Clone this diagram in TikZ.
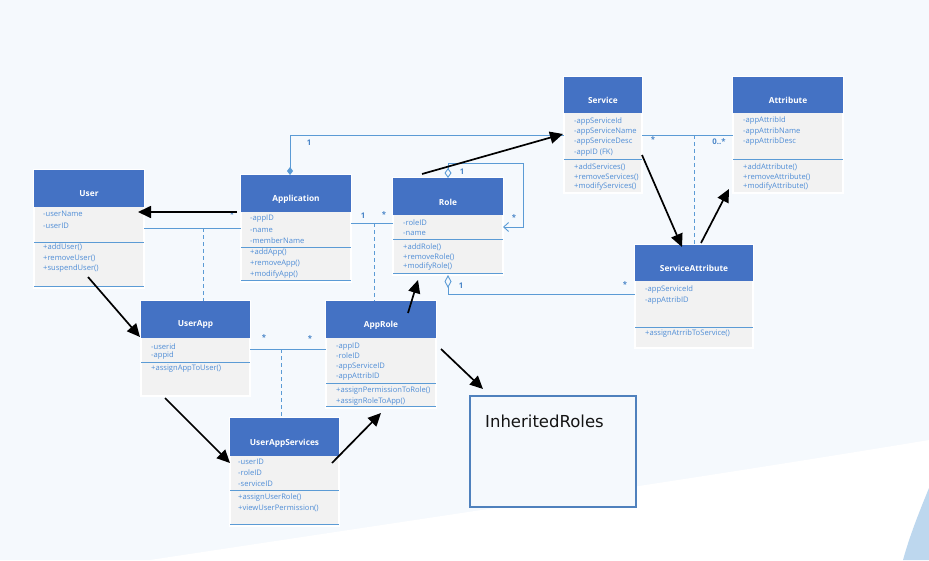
\documentclass[tikz,border=0pt]{standalone}
\usepackage{fontspec}
\setmainfont{Open Sans}
\newfontfamily\inhfont{DejaVu Sans}
\usetikzlibrary{arrows.meta,calc}
\definecolor{bgblue}{HTML}{F5F9FD}
\definecolor{hdrblue}{HTML}{4472C4}
\definecolor{bodygray}{HTML}{F2F2F2}
\definecolor{lineblue}{HTML}{5B9BD5}
\definecolor{txtblue}{HTML}{4F8DD6}
\definecolor{multblue}{HTML}{4A86C8}
\definecolor{inhblue}{HTML}{4F81BD}
\definecolor{cornerblue}{HTML}{BDD7EE}
\newcommand{\attrfont}{\fontsize{7.6}{9}\selectfont}
\newcommand{\hdrfont}{\fontsize{8.3}{10}\selectfont\bfseries}
\newcommand{\multfont}{\fontsize{7.8}{9}\selectfont\bfseries}
\tikzset{
  classbox/.style={fill=bodygray, draw=white, line width=1.2pt, inner sep=0pt, outer sep=0pt},
  titletext/.style={inner sep=0pt, text=white, font=\hdrfont},
  attr/.style={anchor=west, inner sep=0pt, text=txtblue, font=\attrfont},
  sepl/.style={draw=lineblue, line width=0.9pt},
  assoc/.style={draw=lineblue, line width=0.9pt},
  dashl/.style={draw=lineblue, line width=0.9pt, dash pattern=on 4pt off 3pt},
  mult/.style={inner sep=0pt, text=multblue, font=\multfont},
  darrow/.style={draw=black, line width=1.7pt, -{Triangle[length=13pt,width=12pt]}},
}
\newcommand{\umlclass}[7]{%
  \node[classbox, anchor=north west, minimum width={#3-#2}, minimum height={#6-#4}] (#1) at (#2,#4) {};
  \fill[hdrblue] (#2,#4) rectangle (#3,#5);
  \node[titletext] (#1-t) at ({(#2+#3)/2},{#5-13}) {#7};
}
\newcommand{\members}[3]{%
  \foreach \yy/\mtext [count=\mi] in {#3} {\node[attr] (#1-m\mi) at (#2,\yy) {\mtext};}
}
\newcommand{\sepline}[2]{\draw[sepl] (#1.west |- 0,#2) -- (#1.east |- 0,#2);}
\begin{document}
\begin{tikzpicture}[x=1pt,y=-1pt]
\useasboundingbox (0,0) rectangle (929,560);
% background
\fill[bgblue] (0,0) rectangle (929,560);
\fill[white] (150,560) .. controls (400,522) and (700,478) .. (929,440) -- (929,560) -- cycle;
\fill[cornerblue] (929,488) .. controls (918,515) and (910,535) .. (903,560) -- (929,560) -- cycle;

% classes
\umlclass{user}{34}{144}{170}{207}{288}{User}
\members{user}{43}{214/-userName, 226/-userID, 247/+addUser(), 258/+removeUser(), 269/+suspendUser()}
\sepline{user}{242}\sepline{user}{286}

\umlclass{app}{241}{351}{175}{212}{282}{Application}
\members{app}{250}{219/-appID, 230/-name, 241/-memberName, 253/+addApp(), 264/+removeApp(), 275/+modifyApp()}
\sepline{app}{247}\sepline{app}{280}

\umlclass{role}{393}{503}{178}{215}{275}{Role}
\members{role}{403}{223/-roleID, 233/-name, 247/+addRole(), 257/+removeRole(), 267/+modifyRole()}
\sepline{role}{239}\sepline{role}{273}

\umlclass{service}{564}{642}{77}{113}{193}{Service}
\members{service}{574}{122/-appServiceId, 132/-appServiceName, 142/-appServiceDesc, 153/-appID (FK), 167/+addServices(), 177/+removeServices(), 187/+modifyServices()}
\sepline{service}{159}

\umlclass{attr}{733}{843}{77}{113}{193}{Attribute}
\members{attr}{743}{121/-appAttribId, 132/-appAttribName, 142/-appAttribDesc, 167/+addAttribute(), 177/+removeAttribute(), 187/+modifyAttribute()}
\sepline{attr}{159}

\umlclass{sa}{635}{753}{245}{281}{348}{ServiceAttribute}
\members{sa}{645}{290/-appServiceId, 301/-appAttribID, 334/+assignAtrribToService()}
\sepline{sa}{327}

\umlclass{userapp}{141}{250}{301}{338}{396}{UserApp}
\members{userapp}{151}{347/-userid, 356/-appid, 369/+assignAppToUser()}
\sepline{userapp}{362}

\umlclass{approle}{326}{436}{301}{338}{408}{AppRole}
\members{approle}{336}{347/-appID, 356/-roleID, 367/-appServiceID, 377/-appAttribID, 391/+assignPermissionToRole(), 402/+assignRoleToApp()}
\sepline{approle}{383}\sepline{approle}{406}

\umlclass{uas}{230}{339}{418}{456}{526}{UserAppServices}
\members{uas}{238}{462/-userID, 473/-roleID, 484/-serviceID, 498/+assignUserRole(), 508/+viewUserPermission()}
\sepline{uas}{490}\sepline{uas}{524}

% InheritedRoles
\node[draw=inhblue, line width=1.8pt, fill=bgblue, inner sep=0pt, anchor=north west, minimum width=166, minimum height=111] (inh) at (469,395) {};
\node[anchor=west, inner sep=0pt, font=\inhfont\fontsize{16.5}{18}\selectfont, text=black!92] (inh-t) at (485,421) {InheritedRoles};

% association lines (blue)
\draw[assoc] (user.east |- 0,228) -- (app.west |- 0,228);
\draw[dashl] (203,228) coordinate (ua-d) -- (userapp.north -| 203,0);
\draw[assoc] (app.east |- 0,223) -- (role.west |- 0,223);
\draw[dashl] (374,223) coordinate (ar-d) -- (approle.north -| 374,0);
\draw[assoc, {Diamond[length=8pt,width=6pt]}-] (app.north -| 290,0) -- (290,135) -- (service.west |- 0,135);
\draw[assoc] (service.east |- 0,135) -- (attr.west |- 0,135);
\draw[dashl] (694,135) coordinate (sv-d) -- (sa.north -| 694,0);
\draw[assoc, {Diamond[open,length=10pt,width=7pt]}-{Straight Barb[length=5pt,width=9pt]}] (role.north -| 448,0) -- (448,163) -- (523,163) -- (523,227) -- (role.east |- 0,227);
\draw[assoc, {Diamond[open,length=13pt,width=7pt]}-] (role.south -| 448,0) -- (448,294) -- (sa.west |- 0,294);
\draw[assoc] (userapp.east |- 0,349) -- (approle.west |- 0,349);
\draw[dashl] (281,349) coordinate (uap-d) -- (uas.north -| 281,0);

% multiplicities
\node[mult] (m1) at (232,215) {*};
\node[mult] (m2) at (363,216) {1};
\node[mult] (m3) at (384,215) {*};
\node[mult] (m4) at (309,143) {1};
\node[mult] (m5) at (556,140) {*};
\node[mult] (m6) at (462,172) {1};
\node[mult] (m7) at (514,218) {*};
\node[mult] (m8) at (653,140) {*};
\node[mult] (m9) at (719,142) {0..*};
\node[mult] (m10) at (461,286) {1};
\node[mult] (m11) at (625,285) {*};
\node[mult] (m12) at (264,338) {*};
\node[mult] (m13) at (310,339) {*};

% black arrows
\draw[darrow] ($(app.west |- 0,212)+(-4,0)$) -- ($(user.east |- 0,212)+(-6,0)$);
\draw[darrow] ($(role.north -| 422,0)+(0,-4)$) -- ($(service.west |- 0,134)+(-1,0)$);
\draw[darrow] (service.east |- 0,155) -- ($(sa.north -| 682,0)+(0,2)$);
\draw[darrow] ($(sa.north -| 701,0)+(0,-2)$) -- ($(attr.west |- 0,189)+(-4,0)$);
\draw[darrow] ($(user.south)+(-1,-11)$) -- ($(userapp.west |- 0,337)+(-1,0)$);
\draw[darrow] ($(userapp.south -| 165,0)+(0,2)$) -- (uas.west |- 0,463);
\draw[darrow] ($(uas.east |- 0,463)+(-7,0)$) -- ($(approle.south -| 381,0)+(0,5)$);
\draw[darrow] ($(approle.north -| 408,0)+(0,12)$) -- ($(role.south -| 418,0)+(0,5)$);
\draw[darrow] ($(approle.east |- 0,349)+(5,0)$) -- ($(inh.north west)+(14,-6)$);
\end{tikzpicture}
\end{document}
